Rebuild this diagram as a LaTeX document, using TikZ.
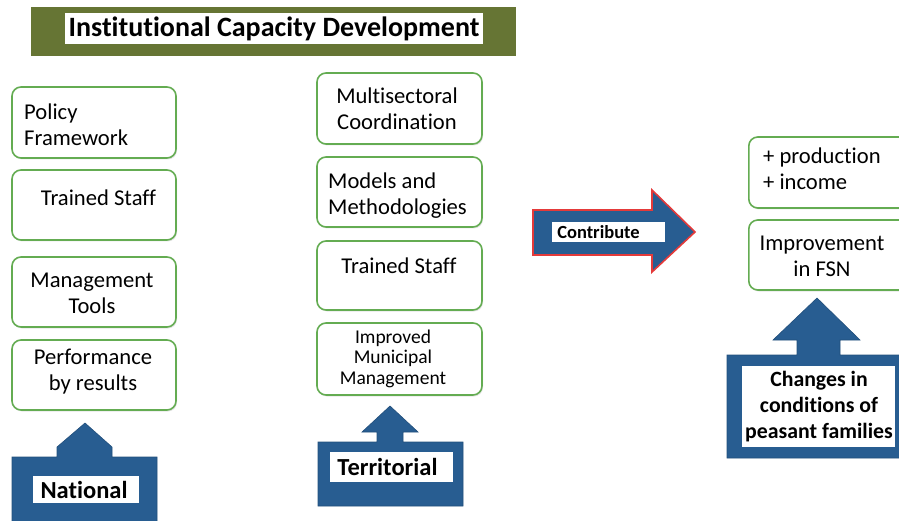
\documentclass[tikz,border=0pt]{standalone}
\usepackage{fontspec}
\setmainfont{Carlito}[Ligatures=NoCommon]
\usetikzlibrary{shadows}
\definecolor{boxgreen}{RGB}{100,172,82}
\definecolor{olive}{RGB}{102,117,52}
\definecolor{arrblue}{RGB}{40,93,145}
\definecolor{arrred}{RGB}{228,58,58}
\tikzset{
  gbox/.style={draw=boxgreen,line width=1.6pt,rounded corners=9pt,fill=white,
    drop shadow={shadow xshift=1pt,shadow yshift=-1.5pt,opacity=0.2},
    minimum width=#1,inner sep=0pt},
  txt/.style={font=\fontsize{22.6}{26}\selectfont,inner sep=0pt},
  btxt/.style={font=\bfseries\fontsize{24.5}{26}\selectfont,inner sep=0pt},
  blueshape/.style={fill=arrblue,draw=arrblue!85!black,line width=0.6pt},
  wlabel/.style={fill=white,draw=none},
}
\begin{document}
\begin{tikzpicture}[x=1pt,y=-1pt]
\useasboundingbox (0,0) rectangle (899,521);
% title
\fill[olive] (31,7) rectangle (516,56);
\node[wlabel,minimum width=418pt,minimum height=31pt,inner sep=0pt] (title) at (274,28.5)
  {\bfseries\fontsize{28}{30}\selectfont Institutional Capacity Development};

% left column boxes
\node[gbox=164pt,minimum height=71pt] (l1) at (94,122.5) {};
\node[gbox=164pt,minimum height=70pt] (l2) at (94,205) {};
\node[gbox=164pt,minimum height=70pt] (l3) at (94,292) {};
\node[gbox=164pt,minimum height=70pt] (l4) at (94,375) {};
\node[txt,align=left,anchor=west] (l1t) at (24,125) {Policy\\Framework};
\node[txt] (l2t) at (98.5,198) {Trained Staff};
\node[txt,align=center] (l3t) at (92,293.5) {Management\\Tools};
\node[txt,align=center] (l4t) at (93,372) {Performance\\by results};

% middle column boxes
\node[gbox=165pt,minimum height=71pt] (m1) at (399.5,108.5) {};
\node[gbox=165pt,minimum height=70pt] (m2) at (399.5,192) {};
\node[gbox=165pt,minimum height=69pt] (m3) at (399.5,275.5) {};
\node[gbox=165pt,minimum height=72pt] (m4) at (399.5,359) {};
\node[txt,align=center] (m1t) at (397,109) {Multisectoral\\Coordination};
\node[txt,align=left,anchor=west] (m2t) at (328,196) {Models and\\Methodologies};
\node[txt] (m3t) at (399,266) {Trained Staff};
\node[align=center,inner sep=0pt,font=\fontsize{19.5}{20.5}\selectfont] (m4t) at (393,358.5) {Improved\\Municipal\\Management};

% right column boxes
\node[gbox=170pt,minimum height=71pt,anchor=west] (r1) at (748,172.5) {};
\node[gbox=170pt,minimum height=70pt,anchor=west] (r2) at (748,255) {};
\node[txt,align=left,anchor=west] (r1t) at (763,168.5) {+ production\\+ income};
\node[txt,align=center] (r2t) at (822,256.5) {Improvement\\in FSN};

% National arrow
\path[blueshape] (12,530) -- (12,457) -- (57,457) -- (57,447) -- (85,423) -- (112,447) -- (112,457) -- (157,457) -- (157,530) -- cycle;
\node[wlabel,minimum width=106pt,minimum height=27pt,inner sep=0pt] (nat) at (86,489.5) {};
\node[btxt] (natt) at (84,490) {National};

% Territorial arrow
\path[blueshape] (318,506) -- (318,442) -- (377,442) -- (377,432) -- (362,432) -- (390,406) -- (418,432) -- (403,432) -- (403,442) -- (463,442) -- (463,506) -- cycle;
\node[wlabel,minimum width=123pt,minimum height=30pt,inner sep=0pt] (ter) at (391.5,467) {};
\node[btxt] (tert) at (387.5,467) {Territorial};

% Contribute arrow
\path[fill=arrblue,draw=arrred,line width=1.6pt] (533,210) -- (652,210) -- (652,190) -- (695,232) -- (652,272) -- (652,255) -- (533,255) -- cycle;
\node[wlabel,minimum width=113pt,minimum height=20pt,inner sep=0pt] (con) at (608.5,232) {};
\node[font=\bfseries\fontsize{18.5}{20}\selectfont,inner sep=0pt] (cont) at (598.5,232.5) {Contribute};

% Changes arrow
\path[blueshape] (727,458) -- (727,355) -- (797,355) -- (797,340) -- (773,340) -- (817,298) -- (860,340) -- (840,340) -- (840,355) -- (910,355) -- (910,458) -- cycle;
\node[wlabel,minimum width=153pt,minimum height=81pt,inner sep=0pt] (chg) at (818.5,406.5) {};
\node[align=center,inner sep=0pt,font=\bfseries\fontsize{21.8}{26}\selectfont] (chgt) at (819,407) {Changes in\\conditions of\\peasant families};
\end{tikzpicture}
\end{document}
